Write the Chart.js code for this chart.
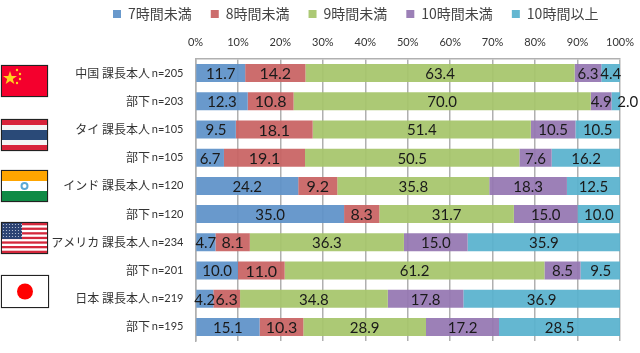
<!DOCTYPE html>
<html>
<head>
<meta charset="utf-8">
<script src="https://cdn.jsdelivr.net/npm/chart.js@4/dist/chart.umd.min.js"></script>
<style>
  body { margin: 0; background: #fff; }
  #wrap { position: relative; width: 640px; height: 353px; overflow: hidden; }
  canvas { position: absolute; left: 0; top: 0; }
  .flag { position: absolute; left: 1px; width: 45px; height: 30px; border: 1px solid #222; box-shadow: 0 0 1px #777; }
</style>
</head>
<body>
<div id="wrap">
  <canvas id="grafico" width="640" height="353"></canvas>

  <svg class="flag" style="top:65px" viewBox="0 0 45 30">
    <rect width="45" height="30" fill="#f4002d"/>
    <polygon points="7,5 8.7,10 14,10 9.8,13 11.3,18 7,15 2.7,18 4.2,13 0,10 5.3,10" fill="#ffd21f" transform="translate(1 0)"/>
    <circle cx="15" cy="4" r="1.2" fill="#ffd21f"/>
    <circle cx="18" cy="8" r="1.2" fill="#ffd21f"/>
    <circle cx="18" cy="13" r="1.2" fill="#ffd21f"/>
    <circle cx="15" cy="17" r="1.2" fill="#ffd21f"/>
  </svg>
  <svg class="flag" style="top:119px" viewBox="0 0 45 30">
    <rect width="45" height="30" fill="#d8233a"/>
    <rect y="5" width="45" height="20" fill="#f4f4f4"/>
    <rect y="10" width="45" height="10" fill="#2a4a78"/>
  </svg>
  <svg class="flag" style="top:170px" viewBox="0 0 45 30">
    <rect width="45" height="10" fill="#ffa500"/>
    <rect y="10" width="45" height="10" fill="#fff"/>
    <rect y="20" width="45" height="10" fill="#0f8a45"/>
    <circle cx="22.5" cy="15" r="3" fill="none" stroke="#5aa9d6" stroke-width="2"/>
  </svg>
  <svg class="flag" style="top:222px" viewBox="0 0 45 30">
    <defs>
      <pattern id="estrellas" width="3" height="3" patternUnits="userSpaceOnUse">
        <rect width="3" height="3" fill="#2d4373"/>
        <circle cx="1.5" cy="1.5" r="0.6" fill="#c8d0e0"/>
      </pattern>
    </defs>
    <rect width="45" height="30" fill="#fff"/>
    <rect y="0" width="45" height="2.3" fill="#d4283c"/>
    <rect y="4.6" width="45" height="2.3" fill="#d4283c"/>
    <rect y="9.2" width="45" height="2.3" fill="#d4283c"/>
    <rect y="13.8" width="45" height="2.3" fill="#d4283c"/>
    <rect y="18.4" width="45" height="2.3" fill="#d4283c"/>
    <rect y="23" width="45" height="2.3" fill="#d4283c"/>
    <rect y="27.7" width="45" height="2.3" fill="#d4283c"/>
    <rect width="20" height="16" fill="url(#estrellas)"/>
  </svg>
  <svg class="flag" style="top:275px;width:46px;height:31px" viewBox="0 0 46 31">
    <rect width="46" height="31" fill="#fff"/>
    <circle cx="23" cy="15.5" r="8" fill="#ff0000"/>
  </svg>
</div>

<script>
const categorias = ['中国 課長本人', '部下', 'タイ 課長本人', '部下', 'インド 課長本人', '部下', 'アメリカ 課長本人', '部下', '日本 課長本人', '部下'];
const muestras = ['n=205', 'n=203', 'n=105', 'n=105', 'n=120', 'n=120', 'n=234', 'n=201', 'n=219', 'n=195'];
const menos7 = [11.7, 12.3, 9.5, 6.7, 24.2, 35.0, 4.7, 10.0, 4.2, 15.1];
const menos8 = [14.2, 10.8, 18.1, 19.1, 9.2, 8.3, 8.1, 11.0, 6.3, 10.3];
const menos9 = [63.4, 70.0, 51.4, 50.5, 35.8, 31.7, 36.3, 61.2, 34.8, 28.9];
const menos10 = [6.3, 4.9, 10.5, 7.6, 18.3, 15.0, 15.0, 8.5, 17.8, 17.2];
const mas10 = [4.4, 2.0, 10.5, 16.2, 12.5, 10.0, 35.9, 9.5, 36.9, 28.5];

const fuenteJp = '"Noto Sans CJK JP", "Noto Sans", sans-serif';
const fuenteNum = 'Lato, "Noto Sans", sans-serif';

// numbers on the bars, Chart.js has no built-in data labels
const etiquetas = {
    id: 'etiquetas',
    // the tick labels get clipped to the scale box, so open it to the left
    afterLayout(chart) {
        chart.scales.y.left = 40;
    },
    afterDatasetsDraw(chart) {
        const ctx = chart.ctx;
        ctx.save();
        ctx.fillStyle = '#1a1a1a';
        ctx.textAlign = 'center';
        ctx.textBaseline = 'middle';
        chart.data.datasets.forEach(function (ds, i) {
            ctx.font = (i === 1 ? '16px ' : '15px ') + fuenteNum;
            chart.getDatasetMeta(i).data.forEach(function (bar, j) {
                const centro = bar.getCenterPoint();
                // the thin last segment pushes its label past the plot
                const x = ds.data[j] < 3 ? centro.x + 12 : centro.x;
                ctx.fillText(ds.data[j].toFixed(1), x, centro.y + 1);
            });
        });
        ctx.restore();
    }
};

function serie(label, data, color) {
    return { label: label, data: data, backgroundColor: color, yAxisID: 'y', barPercentage: 0.64, categoryPercentage: 1 };
}

// fixed axis width, without the extra margin reserved for the last tick label
function anchoFijo(ancho) {
    return function (scale) {
        scale.width = ancho;
        scale.paddingTop = 0;
        scale.paddingBottom = 0;
    };
}

new Chart(document.getElementById('grafico').getContext('2d'), {
    type: 'bar',
    data: {
        labels: categorias,
        datasets: [
            serie('7時間未満', menos7, 'rgba(94, 145, 200, 0.93)'),
            serie('8時間未満', menos8, 'rgba(200, 98, 98, 0.93)'),
            serie('9時間未満', menos9, 'rgba(166, 197, 106, 0.93)'),
            serie('10時間未満', menos10, 'rgba(148, 118, 178, 0.93)'),
            serie('10時間以上', mas10, 'rgba(88, 178, 206, 0.93)')
        ]
    },
    plugins: [etiquetas],
    options: {
        indexAxis: 'y',
        responsive: false,
        animation: false,
        layout: { padding: { left: 94, right: 20, top: -12, bottom: 12 } },
        plugins: {
            tooltip: { enabled: false },
            legend: {
                position: 'top',
                align: 'start',
                labels: {
                    boxWidth: 8,
                    boxHeight: 8,
                    padding: 19,
                    color: '#444',
                    font: { family: fuenteJp, size: 14 }
                }
            }
        },
        scales: {
            x: {
                position: 'top',
                stacked: true,
                min: 0,
                max: 100,
                afterFit: function (scale) {
                    scale.height = 28;
                    scale.paddingLeft = 0;
                    scale.paddingRight = 0;
                },
                ticks: {
                    stepSize: 10,
                    padding: 10,
                    maxRotation: 0,
                    color: '#333',
                    font: { family: fuenteNum, size: 11 },
                    callback: function (v) { return v + '%'; }
                },
                grid: { color: '#b0b0b0', lineWidth: 1.5, drawTicks: false },
                border: { color: '#b0b0b0', width: 1.5 }
            },
            y: {
                stacked: true,
                weight: 1,
                afterFit: anchoFijo(56),
                grid: { display: false, drawTicks: false },
                border: { display: false },
                ticks: {
                    autoSkip: false,
                    padding: 0,
                    color: '#333',
                    font: { family: fuenteJp, size: 12 }
                }
            },
            y1: {
                type: 'category',
                labels: muestras,
                position: 'left',
                offset: true,
                weight: 0,
                afterFit: anchoFijo(45.5),
                grid: { display: false, drawTicks: false },
                border: { color: '#b0b0b0', width: 1.5 },
                ticks: {
                    autoSkip: false,
                    padding: 12,
                    color: '#333',
                    font: { family: fuenteNum, size: 11 }
                }
            }
        }
    }
});
</script>
</body>
</html>
